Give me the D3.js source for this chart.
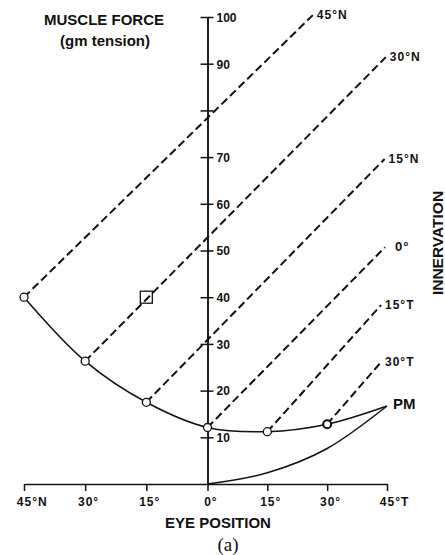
<!DOCTYPE html>
<html>
<head>
<meta charset="UTF-8" />
<script src="https://d3js.org/d3.v7.min.js"></script>
<style>
  body { margin: 0; background: #fff; }
  svg { display: block; }
  text { font-family: "Liberation Sans", Arial, sans-serif; font-weight: bold; fill: #111; }
  .axis path, .axis line { stroke: #111; stroke-width: 1.5px; }
  .axis text { font-size: 12px; }
  .curve { fill: none; stroke: #111; stroke-width: 1.5px; }
  .innerv { fill: none; stroke: #111; stroke-width: 2px; stroke-dasharray: 8,4; }
  .mark { fill: #fff; stroke: #111; stroke-width: 1.3px; }
</style>
</head>
<body>
<svg width="445" height="555"></svg>
<script>
// eye position ticks (deg, negative = nasal)
const positions = [-45, -30, -15, 0, 15, 30, 45];
const positionLabels = ["45°N", "30°", "15°", "0°", "15°", "30°", "45°T"];

// muscle force ticks (gm)
const forceTicks = [10, 20, 30, 40, 50, 60, 70, 80, 90, 100];
const forceTickLabels = ["10", "20", "30", "40", "50", "60", "70", "", "90", "100"];

// length-tension curve (measured points)
const curvePos = [-45, -30, -15, 0, 15, 30, 45];
const curveForce = [40, 26.3, 17.5, 12.1, 11.2, 12.8, 16.7];

// passive muscle curve
const pmPos = [0, 15, 30, 45];
const pmForce = [0, 2.4, 7.6, 16.7];

// innervation lines
const innervLabels = ["45°N", "30°N", "15°N", "0°", "15°T", "30°T"];
const innervStartPos = [-45, -30, -15, 0, 15, 30];
const innervStartForce = [40, 26.3, 17.5, 12.1, 11.2, 12.8];
const innervEndPos = [26.4, 44.7, 44.4, 44.5, 43.5, 43.5];
const innervEndForce = [100.4, 91.4, 69.6, 50.7, 38.3, 26.1];

// single square point
const squarePos = [-15];
const squareForce = [40];

const svg = d3.select("svg");

const x = d3.scaleLinear().domain([-45, 0, 45]).range([24, 207.5, 387]);
const y = d3.scaleLinear().domain([0, 100]).range([484, 17]);

// y axis (ticks cross the line)
const yAxisR = svg.append("g").attr("class", "axis")
  .attr("transform", `translate(${x(0)},0)`)
  .call(d3.axisRight(y).tickValues(forceTicks).tickSize(6).tickSizeOuter(0).tickPadding(3)
    .tickFormat((d, i) => forceTickLabels[i]));
svg.append("g").attr("class", "axis")
  .attr("transform", `translate(${x(0)},0)`)
  .call(d3.axisLeft(y).tickValues(forceTicks).tickSize(7).tickSizeOuter(0).tickFormat(""));
yAxisR.selectAll("text").attr("dy", "0.36em");

// x axis
const xAxis = svg.append("g").attr("class", "axis")
  .attr("transform", `translate(0,${y(0)})`)
  .call(d3.axisBottom(x).tickValues(positions).tickSize(7).tickSizeOuter(0).tickPadding(6)
    .tickFormat((d, i) => positionLabels[i]));
xAxis.selectAll("text").each(function(d, i) {
  const t = d3.select(this);
  const full = positionLabels[i];
  t.style("font-size", "12px").style("letter-spacing", "1px");
  t.text(String(Math.abs(d)));
  const w = this.getComputedTextLength();
  t.text(full).attr("text-anchor", "start").attr("x", -w / 2);
});

// curves
const line = d3.line().x(d => x(d[0])).y(d => y(d[1])).curve(d3.curveCatmullRom.alpha(0.5));
svg.append("path").attr("class", "curve")
  .attr("d", line(curvePos.map((p, i) => [p, curveForce[i]])));
svg.append("path").attr("class", "curve")
  .attr("d", d3.line().x(d => x(d[0])).y(d => y(d[1])).curve(d3.curveMonotoneX)
    (pmPos.map((p, i) => [p, pmForce[i]])));

// innervation dashed lines
svg.selectAll(".innerv")
  .data(innervLabels)
  .join("line")
  .attr("class", "innerv")
  .attr("x1", (d, i) => x(innervStartPos[i]))
  .attr("y1", (d, i) => y(innervStartForce[i]))
  .attr("x2", (d, i) => x(innervEndPos[i]))
  .attr("y2", (d, i) => y(innervEndForce[i]));

svg.selectAll(".innerv-label")
  .data(innervLabels)
  .join("text")
  .attr("class", "innerv-label")
  .attr("x", (d, i) => x(innervEndPos[i]) + (d === "0°" ? 10 : 4))
  .attr("y", (d, i) => y(innervEndForce[i]) + 4)
  .style("font-size", d => d === "0°" ? "13px" : "12px")
  .style("letter-spacing", "1px")
  .text(d => d);

// circles
svg.selectAll(".mark-c")
  .data(curvePos.slice(0, 6))
  .join("circle")
  .attr("class", "mark mark-c")
  .attr("cx", d => x(d))
  .attr("cy", (d, i) => y(curveForce[i]))
  .attr("r", 4)
  .style("stroke-width", d => d === 30 ? 2 : 1.3);

// square
svg.selectAll(".mark-s")
  .data(squarePos)
  .join("rect")
  .attr("class", "mark mark-s")
  .attr("x", d => x(d) - 6)
  .attr("y", (d, i) => y(squareForce[i]) - 6)
  .attr("width", 12).attr("height", 12)
  .style("fill", "none");

// texts
svg.append("text").attr("x", 104).attr("y", 25).attr("text-anchor", "middle")
  .style("font-size", "15px").text("MUSCLE FORCE");
svg.append("text").attr("x", 105).attr("y", 46).attr("text-anchor", "middle")
  .style("font-size", "15px").text("(gm tension)");
svg.append("text").attr("x", 218).attr("y", 528).attr("text-anchor", "middle")
  .style("font-size", "15px").text("EYE POSITION");
svg.append("text").attr("x", 228).attr("y", 551).attr("text-anchor", "middle")
  .style("font-family", "'Liberation Serif', serif").style("font-weight", "normal")
  .style("font-size", "19px").text("(a)");
svg.append("text").attr("transform", "translate(443,243) rotate(-90)")
  .attr("text-anchor", "middle").style("font-size", "15.5px").text("INNERVATION");
svg.append("text").attr("x", x(45) + 6).attr("y", 409)
  .style("font-size", "15px").text("PM");
</script>
</body>
</html>
